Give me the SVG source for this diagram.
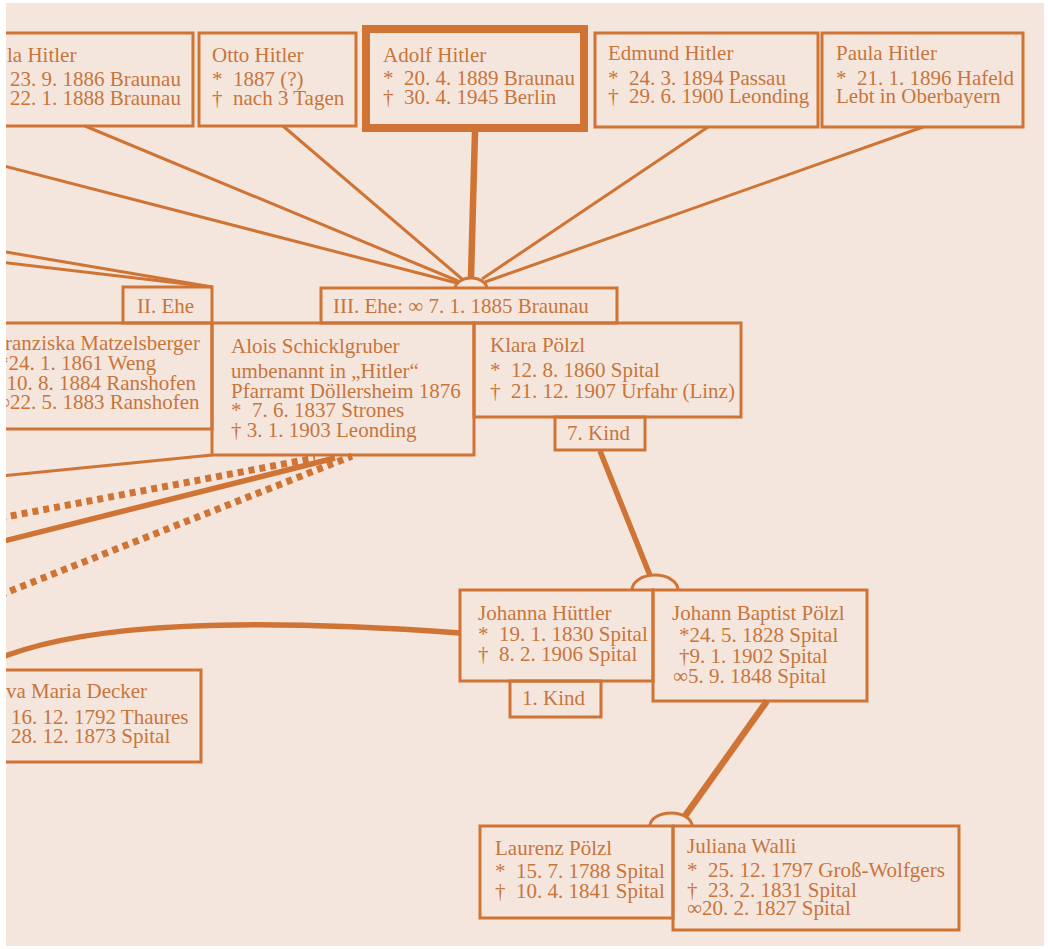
<svg xmlns="http://www.w3.org/2000/svg" width="1048" height="949" viewBox="0 0 1048 949">
<defs>
<clipPath id="page"><rect x="6" y="3" width="1038" height="943"/></clipPath>
<style>
.box{fill:none;stroke:#cf7434;stroke-width:3}
.thick{fill:none;stroke:#cf7434;stroke-width:8}
.ln{fill:none;stroke:#cf7434;stroke-width:3}
.ln5{fill:none;stroke:#cf7434;stroke-width:5.5}
.dot{fill:none;stroke:#cf7434;stroke-width:7;stroke-dasharray:6 5}
.arc{fill:#f4e6dd;stroke:#cf7434;stroke-width:3}
text{font-family:"Liberation Serif","Times New Roman",serif;font-size:21px;fill:#c8753c}
</style>
</defs>
<rect x="0" y="0" width="1048" height="949" fill="#ffffff"/>
<rect x="6" y="3" width="1038" height="943" fill="#f4e6dd"/>
<g clip-path="url(#page)">
<g id="connectors">
<line class="ln" x1="85" y1="126" x2="458" y2="281"/>
<line class="ln" x1="0" y1="165" x2="457" y2="283"/>
<line class="ln" x1="283" y1="126" x2="462" y2="279"/>
<line class="ln5" x1="475" y1="132" x2="471" y2="277" style="stroke-width:6.5"/>
<line class="ln" x1="708" y1="127" x2="482" y2="279"/>
<line class="ln" x1="923" y1="127" x2="485" y2="282"/>
<path class="arc" d="M455,289 A16,11 0 0 1 487,289"/>
<line class="ln" x1="0" y1="251" x2="212" y2="287"/>
<line class="ln" x1="0" y1="262" x2="212" y2="287"/>
<line class="ln" x1="0" y1="476" x2="212" y2="455"/>
<line class="dot" x1="0" y1="518" x2="315" y2="458"/>
<line class="ln5" x1="0" y1="542" x2="335" y2="458"/>
<line class="dot" x1="0" y1="595" x2="352" y2="456"/>
<line class="ln5" x1="600" y1="451" x2="651" y2="578"/>
<path class="arc" d="M632,590 A23,15 0 0 1 678,590"/>
<path class="ln5" d="M0,658 C90,622 250,618 460,633"/>
<line class="ln5" x1="767" y1="701" x2="685" y2="816" style="stroke-width:6.5"/>
<path class="arc" d="M650,826 A21,13 0 0 1 692,826"/>
</g>
<g id="ida">
<rect class="box" x="-10" y="33" width="203" height="93"/>
<text x="7" y="62">la Hitler</text>
<text x="10" y="86">23. 9. 1886 Braunau</text>
<text x="10" y="105">22. 1. 1888 Braunau</text>
</g>
<g id="otto">
<rect class="box" x="199" y="33" width="157" height="93"/>
<text x="212" y="62">Otto Hitler</text>
<text x="212" y="86">*&#160; 1887 (?)</text>
<text x="212" y="105">†&#160; nach 3 Tagen</text>
</g>
<g id="adolf">
<rect class="thick" x="366" y="29" width="218" height="99"/>
<text x="383" y="62">Adolf Hitler</text>
<text x="383" y="85">*&#160; 20. 4. 1889 Braunau</text>
<text x="383" y="104">†&#160; 30. 4. 1945 Berlin</text>
</g>
<g id="edmund">
<rect class="box" x="595" y="33" width="223" height="94"/>
<text x="608" y="60">Edmund Hitler</text>
<text x="608" y="85">*&#160; 24. 3. 1894 Passau</text>
<text x="608" y="103">†&#160; 29. 6. 1900 Leonding</text>
</g>
<g id="paula">
<rect class="box" x="822" y="33" width="201" height="94"/>
<text x="836" y="60">Paula Hitler</text>
<text x="836" y="85">*&#160; 21. 1. 1896 Hafeld</text>
<text x="836" y="103">Lebt in Oberbayern</text>
</g>
<g id="ehe2">
<rect class="box" x="123" y="287" width="89" height="36"/>
<text x="137" y="313">II. Ehe</text>
</g>
<g id="ehe3">
<rect class="box" x="321" y="288" width="296" height="35"/>
<text x="333" y="313">III. Ehe: ∞ 7. 1. 1885 Braunau</text>
</g>
<g id="franziska">
<rect class="box" x="-10" y="323" width="222" height="106"/>
<text x="5" y="350">ranziska Matzelsberger</text>
<text x="-2" y="370">*24. 1. 1861 Weng</text>
<text x="-4" y="390">†10. 8. 1884 Ranshofen</text>
<text x="-5" y="409">∞22. 5. 1883 Ranshofen</text>
</g>
<g id="alois">
<rect class="box" x="212" y="323" width="262" height="132"/>
<text x="231" y="353">Alois Schicklgruber</text>
<text x="231" y="378">umbenannt in „Hitler“</text>
<text x="231" y="398">Pfarramt Döllersheim 1876</text>
<text x="231" y="417">*&#160; 7. 6. 1837 Strones</text>
<text x="231" y="437">† 3. 1. 1903 Leonding</text>
</g>
<g id="klara">
<rect class="box" x="474" y="323" width="267" height="94"/>
<text x="490" y="352">Klara Pölzl</text>
<text x="490" y="377">*&#160; 12. 8. 1860 Spital</text>
<text x="490" y="398">†&#160; 21. 12. 1907 Urfahr (Linz)</text>
</g>
<g id="kind7">
<rect class="box" x="555" y="417" width="90" height="33"/>
<text x="567" y="440">7. Kind</text>
</g>
<g id="johanna">
<rect class="box" x="460" y="590" width="193" height="91"/>
<text x="478" y="620">Johanna Hüttler</text>
<text x="478" y="641">*&#160; 19. 1. 1830 Spital</text>
<text x="478" y="661">†&#160; 8. 2. 1906 Spital</text>
</g>
<g id="johann">
<rect class="box" x="653" y="590" width="214" height="111"/>
<text x="672" y="620">Johann Baptist Pölzl</text>
<text x="679" y="642">*24. 5. 1828 Spital</text>
<text x="679" y="663">†9. 1. 1902 Spital</text>
<text x="673" y="683">∞5. 9. 1848 Spital</text>
</g>
<g id="kind1">
<rect class="box" x="510" y="681" width="91" height="36"/>
<text x="522" y="705">1. Kind</text>
</g>
<g id="eva">
<rect class="box" x="-10" y="670" width="211" height="92"/>
<text x="6" y="698">va Maria Decker</text>
<text x="11" y="724">16. 12. 1792 Thaures</text>
<text x="11" y="743">28. 12. 1873 Spital</text>
</g>
<g id="laurenz">
<rect class="box" x="480" y="826" width="193" height="92"/>
<text x="495" y="855">Laurenz Pölzl</text>
<text x="495" y="878">*&#160; 15. 7. 1788 Spital</text>
<text x="495" y="898">†&#160; 10. 4. 1841 Spital</text>
</g>
<g id="juliana">
<rect class="box" x="673" y="826" width="286" height="104"/>
<text x="687" y="853">Juliana Walli</text>
<text x="687" y="877">*&#160; 25. 12. 1797 Groß-Wolfgers</text>
<text x="687" y="897">†&#160; 23. 2. 1831 Spital</text>
<text x="687" y="915">∞20. 2. 1827 Spital</text>
</g>
</g>
</svg>
